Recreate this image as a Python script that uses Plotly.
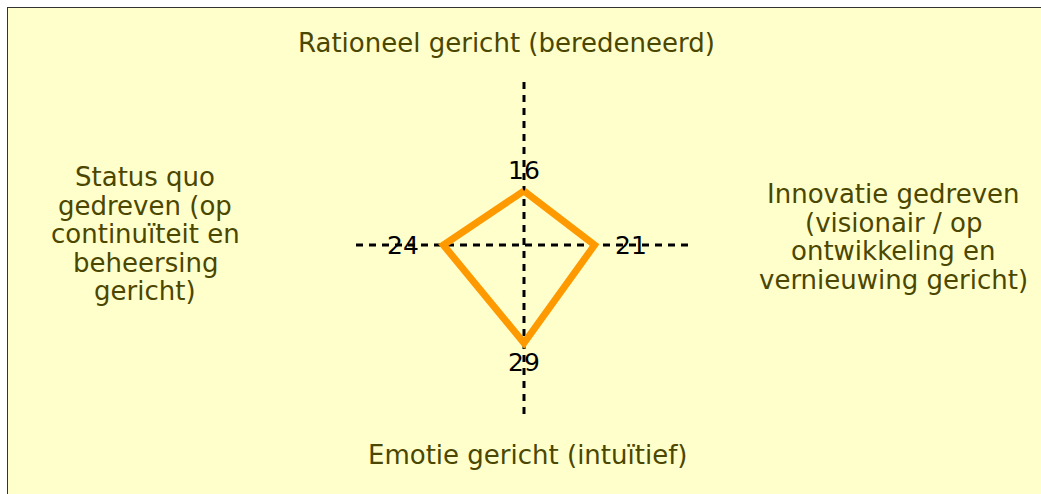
import plotly.graph_objects as go

# ── Data ────────────────────────────────────────────────────────────────────
directions = ["top", "right", "bottom", "left"]
scores = [16, 21, 29, 24]
axis_labels = [
    ["Rationeel gericht (beredeneerd)"],
    ["Innovatie gedreven", "(visionair / op", "ontwikkeling en", "vernieuwing gericht)"],
    ["Emotie gericht (intuïtief)"],
    ["Status quo", "gedreven (op", "continuïteit en", "beheersing", "gericht)"],
]
axis_max = 50

BG = "#FFFFCC"
ORANGE = "#FF9900"
TEXT = "#4B4700"
FONT = "DejaVu Sans"

# unit vectors per direction
vec = {"top": (0, 1), "right": (1, 0), "bottom": (0, -1), "left": (-1, 0)}
px = [vec[d][0] * s for d, s in zip(directions, scores)]
py = [vec[d][1] * s for d, s in zip(directions, scores)]

# ── Geometry (pixels inside the figure) ─────────────────────────────────────
# the chart box runs past the right and bottom edge of the window
OFF = 7                                # white page margin top / left
W, H = 1041 - OFF + 20, 494 - OFF + 20
cx, cy = 524 - OFF, 245 - OFF          # centre of the cross
sx, sy = 168 / axis_max, 169 / axis_max
x_range = [-cx / sx, (W - cx) / sx]
y_range = [-(H - cy) / sy, cy / sy]


def to_data(page_x, page_y):
    return (page_x - OFF - cx) / sx, (cy - (page_y - OFF)) / sy


fig = go.Figure()

# dashed cross
dash = dict(color="black", width=3, dash="7px,6px")
fig.add_trace(go.Scatter(x=[-axis_max, axis_max], y=[0, 0], mode="lines",
                         line=dash, hoverinfo="skip", showlegend=False))
fig.add_trace(go.Scatter(x=[0, 0], y=[-axis_max, axis_max], mode="lines",
                         line=dash, hoverinfo="skip", showlegend=False))

# score polygon
fig.add_trace(go.Scatter(x=px + px[:1], y=py + py[:1], mode="lines",
                         line=dict(color=ORANGE, width=7),
                         showlegend=False))

# score labels
shifts = {"top": (0, 20), "right": (36, 0), "bottom": (0, -19), "left": (-40, 0)}
for d, s, x, y in zip(directions, scores, px, py):
    fig.add_annotation(x=x, y=y, text=str(s), showarrow=False,
                       xshift=shifts[d][0], yshift=shifts[d][1],
                       font=dict(family=FONT, size=25, color="black"))

# axis titles, one annotation per line for tight line spacing
title_pos = {"top": (506, 43), "right": (893, 237), "bottom": (527, 455), "left": (145, 234)}
line_gap = 28.5
for d, lines in zip(directions, axis_labels):
    tx, ty = title_pos[d]
    n = len(lines)
    for i, ln in enumerate(lines):
        ax, ay = to_data(tx, ty + (i - (n - 1) / 2) * line_gap)
        fig.add_annotation(x=ax, y=ay, text=ln, showarrow=False,
                           font=dict(family=FONT, size=26, color=TEXT))

# frame: only top and left edges are inside the picture
frame = dict(color="#333333", width=2)
fig.add_shape(type="line", xref="paper", yref="paper", x0=0, x1=1, y0=1, y1=1, line=frame)
fig.add_shape(type="line", xref="paper", yref="paper", x0=0, x1=0, y0=0, y1=1, line=frame)

fig.update_layout(
    width=W, height=H,
    margin=dict(l=0, r=0, t=0, b=0),
    paper_bgcolor=BG,
    plot_bgcolor=BG,
    xaxis=dict(range=x_range, visible=False, fixedrange=True),
    yaxis=dict(range=y_range, visible=False, fixedrange=True),
)

fig.write_html(
    "out.html",
    post_script="document.body.style.margin = '7px 0 0 7px';"
                "document.body.style.overflow = 'hidden';",
)
